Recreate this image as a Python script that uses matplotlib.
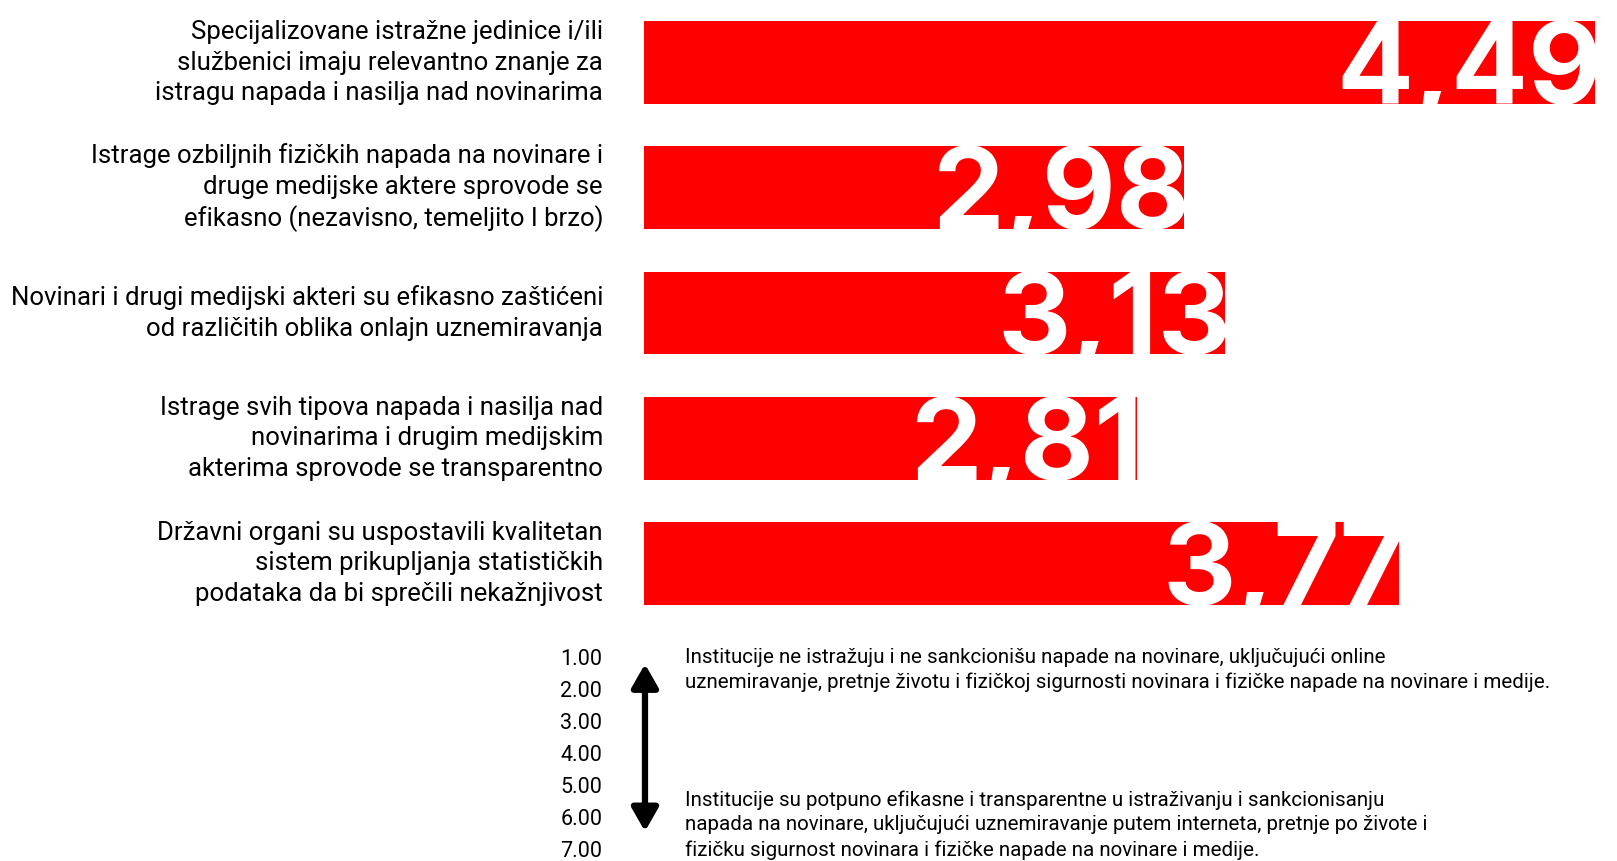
#!/usr/bin/env python3

"""
Procena rada institucija - horizontalni bar chart sa legendom skale
"""

import matplotlib
matplotlib.use('Agg')
import matplotlib.pyplot as plt

categories = [
    'Specijalizovane istražne jedinice i/ili\nslužbenici imaju relevantno znanje za\nistragu napada i nasilja nad novinarima',
    'Istrage ozbiljnih fizičkih napada na novinare i\ndruge medijske aktere sprovode se\nefikasno (nezavisno, temeljito I brzo)',
    'Novinari i drugi medijski akteri su efikasno zaštićeni\nod različitih oblika onlajn uznemiravanja',
    'Istrage svih tipova napada i nasilja nad\nnovinarima i drugim medijskim\nakterima sprovode se transparentno',
    'Državni organi su uspostavili kvalitetan\nsistem prikupljanja statističkih\npodataka da bi sprečili nekažnjivost',
]
scores = [4.49, 2.98, 3.13, 2.81, 3.77]

scale_ticks = [1, 2, 3, 4, 5, 6, 7]
scale_top = ('Institucije ne istražuju i ne sankcionišu napade na novinare, uključujući online\n'
             'uznemiravanje, pretnje životu i fizičkoj sigurnosti novinara i fizičke napade na novinare i medije.')
scale_bottom = ('Institucije su potpuno efikasne i transparentne u istraživanju i sankcionisanju\n'
                'napada na novinare, uključujući uznemiravanje putem interneta, pretnje po živote i\n'
                'fizičku sigurnost novinara i fizičke napade na novinare i medije.')

RED = '#ff0000'
W, H = 1617, 861


def bar_panel(fig):
    ax = fig.add_axes([644 / W, 235 / H, 1 - 644 / W, 626 / H])
    ypos = list(range(len(scores)))
    bars = ax.barh(ypos, [s - 1 for s in scores], left=1, height=0.662,
                   color=RED, edgecolor='none')
    ax.set_xlim(1, 4.57)
    ax.set_ylim(len(scores) - 0.5, -0.5)

    # big white values, cut off by the bar shape
    for bar, s in zip(bars, scores):
        t = ax.text(bar.get_x() + bar.get_width() + 0.025, bar.get_y() + bar.get_height(),
                    f'{s:.2f}'.replace('.', ','), color='white', fontsize=82,
                    fontweight='bold', family=['Inter', 'DejaVu Sans'],
                    ha='right', va='baseline')
        t.set_clip_path(bar)

    ax.set_yticks(ypos)
    ax.set_yticklabels(categories, fontsize=18.5, linespacing=1.34)
    for lbl in ax.get_yticklabels():
        lbl.set_va('center')
    ax.tick_params(axis='y', length=0, pad=29.5)
    ax.set_xticks([])
    for sp in ax.spines.values():
        sp.set_visible(False)
    ax.patch.set_alpha(0)


def scale_panel(fig):
    ax = fig.add_axes([644 / W, 12 / H, 1 - 644 / W, 192 / H])
    ax.set_ylim(7, 1)
    ax.set_xlim(0, 1)
    ax.set_yticks(scale_ticks)
    ax.set_yticklabels([f'{v:.2f}' for v in scale_ticks], fontsize=15.5)
    ax.tick_params(axis='y', length=0, pad=30)
    ax.set_xticks([])
    for sp in ax.spines.values():
        sp.set_visible(False)
    ax.patch.set_alpha(0)

    ax.annotate('', xy=(0.001, 1.22), xytext=(0.001, 6.45),
                arrowprops=dict(arrowstyle='<|-|>,head_length=0.7,head_width=0.4',
                                mutation_scale=20, lw=4.5, color='black',
                                shrinkA=0, shrinkB=0))

    ax.text(0.042, 1.41, scale_top, fontsize=14.8, va='center', ha='left',
            linespacing=1.37)
    ax.text(0.042, 6.25, scale_bottom, fontsize=14.8, va='center', ha='left',
            linespacing=1.37)


def main():
    plt.rcParams['font.family'] = ['Roboto', 'DejaVu Sans']
    fig = plt.figure(figsize=(W / 100, H / 100), dpi=100)
    bar_panel(fig)
    scale_panel(fig)
    fig.savefig('out.png', dpi=100, facecolor='white')


if __name__ == '__main__':
    main()
